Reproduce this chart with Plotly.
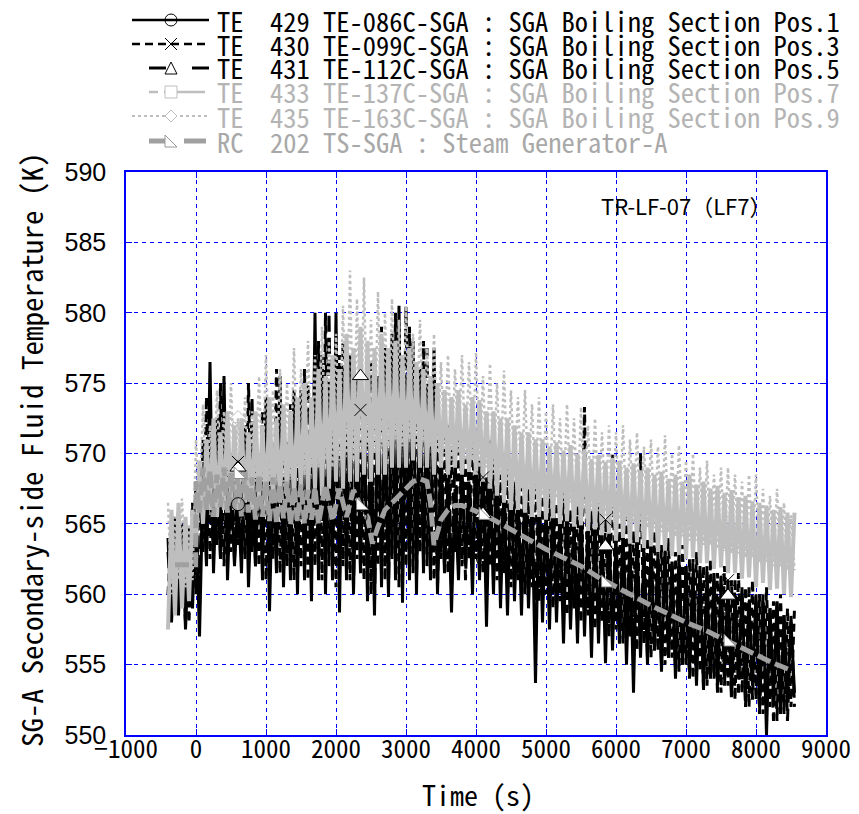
import plotly.graph_objects as go

# sampling times of the TE channels (s)
t_te = list(range(-400, 8501, 100))

# TE 429 (Pos.1) upper / lower readings
hi1 = [564.0, 563.0, 565.0, 563.5,
       566.0, 568.0, 576.5, 569.0, 575.5, 568.0, 567.0, 572.0, 568.0, 570.0,
       574.0, 569.0, 575.5, 570.0, 572.0, 574.5, 571.0, 580.0, 576.0, 574.0,
       580.0, 575.0, 577.0, 572.0, 574.0, 571.0, 575.5, 573.0, 578.5, 580.5,
       575.0, 578.0, 576.0, 574.0, 577.5, 570.0, 568.0, 567.5, 569.0, 568.0,
       571.0, 569.5, 568.5, 570.0, 567.5, 568.5, 567.0, 568.0, 566.5, 567.0,
       566.0, 567.0, 565.5, 566.0, 565.0, 566.5, 565.0, 565.5, 564.5, 565.0,
       564.0, 564.5, 563.5, 564.0, 563.0, 563.5, 562.5, 563.0, 562.0, 562.5,
       562.0, 561.5, 562.0, 561.0, 561.5, 560.5, 561.0, 560.0, 560.5, 559.5,
       560.0, 559.5, 559.0, 559.5, 558.5, 558.0]
lo1 = [558.0, 558.5, 557.5, 559.0,
       557.0, 562.0, 561.5, 562.5, 561.0, 562.0, 561.5, 560.5, 562.0, 561.0,
       558.8, 561.5, 560.5, 561.0, 560.0, 561.0, 559.5, 561.0, 560.0, 561.0,
       558.7, 561.0, 560.0, 561.5, 559.5, 558.5, 560.5, 559.8, 561.0, 559.4,
       561.0, 560.0, 561.5, 561.0, 560.0, 561.5, 558.7, 561.0, 562.0, 560.0,
       561.0, 557.7, 560.0, 559.0, 558.5, 559.5, 558.5, 559.0, 553.7, 558.0,
       557.5, 558.0, 556.5, 557.5, 556.5, 557.0, 555.5, 556.5, 555.1, 556.0,
       556.5, 555.0, 553.0, 555.5, 555.0, 556.0, 554.5, 555.5, 554.0, 555.0,
       554.5, 553.5, 553.2, 554.0, 553.5, 554.5, 553.0, 554.0, 552.5, 553.5,
       552.0, 550.0, 552.5, 551.5, 552.5, 553.0]

# TE 430 (Pos.3)
hi3 = [565.0, 566.0, 564.5, 566.5,
       567.0, 574.0, 570.0, 575.0, 569.5, 571.5, 569.4, 575.0, 570.0, 573.0,
       570.5, 576.0, 571.0, 573.5, 570.0, 576.0, 573.0, 578.0, 580.0, 575.5,
       577.0, 573.5, 576.0, 573.1, 577.0, 574.0, 579.0, 576.0, 580.0, 577.0,
       579.0, 576.5, 578.0, 575.0, 573.0, 571.5, 570.5, 572.0, 570.0, 571.5,
       569.5, 568.3, 570.0, 568.5, 569.5, 568.0, 569.0, 567.5, 568.5, 567.0,
       567.5, 566.5, 567.5, 566.0, 566.5, 573.3, 566.0, 566.5, 565.3, 570.0,
       565.0, 565.5, 564.5, 570.0, 564.0, 564.5, 563.5, 564.0, 563.0, 563.5,
       562.5, 563.0, 562.0, 562.5, 561.5, 562.0, 561.0, 561.5, 560.5, 561.0,
       560.0, 560.5, 559.5, 560.0, 559.0, 559.0]
lo3 = [560.0, 559.0, 560.5, 558.0,
       560.0, 563.0, 562.5, 563.5, 562.0, 563.0, 563.5, 562.5, 563.0, 562.0,
       561.0, 562.5, 561.5, 562.0, 561.0, 562.0, 561.0, 562.0, 561.0, 562.0,
       560.5, 562.0, 561.0, 562.5, 561.0, 560.0, 562.0, 561.0, 562.5, 560.5,
       562.0, 561.5, 563.0, 562.0, 561.0, 562.5, 561.5, 563.0, 562.0, 562.5,
       562.5, 561.5, 562.0, 561.0, 561.5, 560.5, 561.0, 560.0, 560.5, 559.5,
       560.0, 559.0, 559.5, 558.5, 559.0, 558.0, 558.5, 557.5, 558.0, 557.0,
       557.5, 556.5, 557.0, 556.0, 556.5, 555.5, 556.0, 555.0, 555.5, 554.5,
       555.0, 554.0, 554.5, 553.5, 554.0, 553.0, 553.5, 552.5, 553.0, 552.0,
       552.5, 551.5, 552.0, 551.0, 551.5, 552.0]

# TE 431 (Pos.5)
hi5 = [563.0, 565.5, 563.0, 565.0,
       568.0, 571.0, 569.0, 572.5, 568.5, 570.0, 569.0, 571.0, 574.0, 569.5,
       571.5, 570.0, 572.5, 571.0, 574.5, 571.5, 575.0, 573.0, 577.0, 580.0,
       575.0, 578.0, 574.0, 575.5, 573.0, 576.5, 574.0, 577.5, 575.0, 578.0,
       580.5, 577.0, 575.0, 577.5, 574.0, 571.0, 572.0, 570.0, 571.5, 569.5,
       570.5, 569.0, 571.0, 569.5, 568.0, 569.0, 567.5, 568.5, 567.0, 568.0,
       566.5, 567.5, 566.0, 567.0, 565.5, 566.5, 565.0, 566.0, 563.4, 565.5,
       564.5, 565.0, 564.0, 564.5, 563.5, 564.0, 563.0, 563.5, 562.5, 563.0,
       562.0, 562.5, 561.5, 562.0, 561.0, 561.5, 559.9, 561.0, 560.0, 560.5,
       559.5, 560.0, 559.0, 559.5, 558.5, 558.5]
lo5 = [559.0, 560.0, 558.0, 560.5,
       559.0, 563.5, 563.0, 562.5, 563.0, 562.5, 563.0, 563.5, 562.0, 563.0,
       562.0, 563.0, 561.5, 562.5, 561.5, 563.0, 561.5, 562.0, 561.0, 562.5,
       561.0, 562.0, 560.5, 562.0, 561.0, 559.5, 561.5, 560.5, 562.0, 561.0,
       562.5, 561.0, 562.5, 561.5, 560.5, 562.0, 560.5, 562.0, 561.0, 562.0,
       561.5, 562.0, 561.0, 561.5, 560.5, 561.0, 560.0, 560.5, 559.5, 560.0,
       559.0, 559.5, 558.5, 559.0, 558.0, 558.5, 557.5, 558.0, 557.0, 557.5,
       556.5, 557.0, 556.0, 556.5, 555.5, 556.0, 555.0, 555.5, 554.5, 555.0,
       554.0, 554.5, 553.5, 554.0, 553.0, 553.5, 552.5, 553.0, 552.0, 552.5,
       551.5, 552.0, 551.0, 551.5, 551.0, 552.0]

# TE 433 (Pos.7)
hi7 = [566.0, 566.5, 565.5, 566.0,
       569.5, 571.0, 572.5, 571.5, 573.0, 572.0, 572.5, 571.5, 573.0, 572.0,
       574.0, 572.5, 573.5, 573.0, 574.0, 575.0, 574.0, 576.0, 575.5, 577.0,
       576.0, 578.5, 577.5, 579.0, 578.0, 577.5, 578.5, 577.5, 578.0, 577.0,
       577.5, 576.5, 576.0, 575.5, 575.0, 574.5, 574.0, 574.5, 573.5, 574.0,
       573.8, 573.0, 573.0, 572.5, 572.5, 572.0, 571.5, 571.5, 571.0, 571.0,
       570.5, 570.8, 570.2, 570.6, 570.0, 570.3, 569.6, 569.9, 569.4, 569.7,
       569.5, 569.0, 569.3, 568.8, 569.0, 568.5, 568.7, 568.2, 568.5, 568.0,
       568.5, 567.8, 568.0, 567.5, 567.7, 567.2, 567.4, 566.9, 567.0, 566.6,
       566.5, 566.3, 566.0, 566.2, 565.8, 565.8]
lo7 = [557.5, 558.5, 559.0, 559.5,
       563.5, 565.0, 566.0, 565.5, 566.0, 566.5, 566.0, 566.5, 566.0, 566.5,
       566.0, 566.5, 566.5, 567.0, 566.5, 567.0, 567.0, 567.5, 567.0, 567.5,
       568.0, 567.5, 568.0, 568.0, 568.5, 568.0, 568.5, 568.5, 569.0, 569.0,
       569.0, 569.5, 569.0, 569.0, 568.5, 569.0, 568.5, 569.0, 568.5, 568.7,
       568.5, 568.0, 567.5, 567.0, 566.5, 566.0, 566.0, 565.8, 565.5, 565.5,
       565.3, 565.4, 565.0, 565.2, 564.8, 564.9, 564.5, 564.6, 564.2, 564.3,
       563.8, 564.0, 563.6, 563.7, 563.3, 563.4, 563.0, 563.1, 562.7, 562.8,
       562.5, 562.6, 562.2, 562.2, 561.8, 561.9, 561.5, 561.5, 561.1, 561.2,
       560.5, 560.8, 560.3, 560.4, 560.0, 559.8]

# TE 435 (Pos.9)
hi9 = [566.5, 565.5, 566.8, 565.0,
       571.0, 573.5, 572.0, 574.5, 573.0, 575.0, 572.5, 574.0, 573.0, 575.5,
       577.0, 574.5, 576.0, 575.0, 577.5, 576.0, 578.0, 577.0, 579.0, 578.0,
       578.5, 580.5, 583.0, 581.0, 582.5, 579.5, 581.5, 580.0, 581.0, 579.5,
       580.5, 578.5, 579.5, 577.5, 578.5, 576.5, 577.0, 576.0, 577.0, 576.5,
       577.2, 575.5, 576.4, 575.0, 575.9, 574.5, 574.0, 574.5, 573.5, 574.0,
       573.0, 573.5, 572.5, 573.5, 572.5, 573.3, 572.0, 572.5, 571.5, 572.0,
       571.5, 572.0, 571.0, 571.5, 570.5, 571.0, 570.5, 571.3, 570.0, 570.6,
       569.5, 570.0, 569.0, 569.5, 568.5, 569.0, 569.0, 568.5, 568.0, 568.5,
       568.5, 567.5, 567.0, 567.5, 566.5, 565.6]
lo9 = [560.0, 561.0, 560.5, 561.0,
       566.0, 567.0, 567.5, 567.0, 567.5, 567.5, 568.0, 567.5, 568.0, 568.0,
       568.0, 568.5, 568.0, 568.5, 569.0, 568.5, 569.0, 569.0, 569.5, 569.0,
       569.5, 570.0, 569.5, 570.0, 570.5, 570.0, 570.5, 570.5, 571.0, 570.5,
       571.0, 570.5, 571.0, 570.5, 570.0, 570.0, 569.5, 570.0, 569.5, 569.5,
       569.0, 569.0, 568.5, 568.5, 568.0, 568.0, 567.5, 567.5, 567.0, 567.0,
       566.8, 566.8, 566.5, 566.5, 566.2, 566.2, 565.9, 565.9, 565.6, 565.6,
       565.3, 565.3, 565.0, 565.0, 564.7, 564.7, 564.4, 564.4, 564.1, 564.1,
       563.8, 563.8, 563.5, 563.5, 563.2, 563.2, 562.9, 562.9, 562.6, 562.6,
       562.3, 562.3, 562.0, 562.0, 561.7, 561.7]

# RC 202 TS-SGA
rc_t = [-300, -5,
        0, 50, 100, 150, 200, 250, 300, 350, 400, 450, 500, 550, 600, 650,
        700, 750, 800, 850, 900, 950, 1000, 1050, 1100, 1150, 1200, 1250,
        1300, 1350, 1400, 1450, 1500, 1550, 1600, 1650, 1700, 1750,
        1850, 1950, 2050, 2150, 2250, 2350, 2450, 2520, 2600, 2700, 2800,
        2900, 3000, 3100, 3200, 3300, 3350, 3400, 3450, 3500, 3600, 3700,
        3800, 3900, 4000, 4250, 4500, 4750, 5000, 5250, 5500, 5750, 6000,
        6250, 6500, 6750, 7000, 7250, 7500, 7750, 8000, 8250, 8500]
rc_v = [562.1, 562.1,
        568.0, 565.8, 569.0, 566.0, 568.8, 565.5, 568.5, 566.2, 569.0, 565.8,
        568.6, 566.0, 568.5, 565.5, 568.8, 565.8, 568.3, 565.3, 568.5, 565.5,
        568.0, 565.2, 568.3, 565.0, 567.8, 565.4, 568.0, 564.9, 567.6, 565.2,
        567.8, 565.0, 567.4, 565.3, 567.6, 565.0,
        567.8, 565.2, 567.5, 565.5, 567.4, 566.3, 565.5, 563.6, 564.8, 566.0,
        566.5, 567.0, 567.6, 568.0, 568.2, 568.0, 566.5, 563.5, 564.4, 565.3,
        566.0, 566.3, 566.3, 566.1, 565.9, 565.3, 564.6, 563.9, 563.2, 562.6,
        562.0, 561.2, 560.5, 559.8, 559.2, 558.6, 558.0, 557.5, 556.9, 556.3,
        555.7, 555.1, 554.6]

# symbol positions
mk_t = [600, 2350, 4100, 5850, 7600]
mk1 = [566.4, 565.5, 562.5, 559.0, 555.5]
mk3 = [569.4, 573.1, 568.3, 565.3, 561.0]
mk5 = [569.0, 575.5, 565.7, 563.4, 559.9]
mk7 = [571.8, 572.0, 570.5, 567.0, 563.5]
mk9 = [572.5, 574.0, 571.0, 568.0, 565.0]
mk_rc = [568.5, 566.3, 565.6, 560.8, 556.6]

labels = ["TE  429 TE-086C-SGA : SGA Boiling Section Pos.1",
          "TE  430 TE-099C-SGA : SGA Boiling Section Pos.3",
          "TE  431 TE-112C-SGA : SGA Boiling Section Pos.5",
          "TE  433 TE-137C-SGA : SGA Boiling Section Pos.7",
          "TE  435 TE-163C-SGA : SGA Boiling Section Pos.9",
          "RC  202 TS-SGA : Steam Generator-A"]

x_ticks = [-1000, 0, 1000, 2000, 3000, 4000, 5000, 6000, 7000, 8000, 9000]
y_ticks = [550, 555, 560, 565, 570, 575, 580, 585, 590]

MONO = "Noto Sans Mono CJK JP, DejaVu Sans Mono, monospace"
BLUE = "#0000ff"
LGRAY = "#bebebe"
MGRAY = "#a0a0a0"

# plot area is 700 x 563 px; helpers turn picture pixels into paper units
def px(x):
    return (x - 126) / 700.0

def py(y):
    return (735 - y) / 563.0


def zigzag(hi, lo, phase=0):
    # alternate the upper and lower readings of each sample period
    xs, ys = [], []
    for t, h, l in zip(t_te, hi, lo):
        xs += [t, t + 50]
        ys += [h, l] if phase == 0 else [l, h]
    return xs, ys


def legend_symbol(kind, cx, cy, color, fill):
    # small marker drawn as a paper-referenced shape
    r = 6
    x0, x1, xm = px(cx - r), px(cx + r), px(cx)
    y0, y1, ym = py(cy + r), py(cy - r), py(cy)
    base = dict(xref="paper", yref="paper", layer="above",
                line=dict(color=color, width=1), fillcolor=fill)
    if kind == "circle":
        return dict(type="circle", x0=x0, x1=x1, y0=y0, y1=y1, **base)
    if kind == "square":
        return dict(type="rect", x0=x0, x1=x1, y0=y0, y1=y1, **base)
    if kind == "x":
        path = f"M{x0},{y0} L{x1},{y1} M{x0},{y1} L{x1},{y0}"
    elif kind == "tri":
        path = f"M{x0},{y0} L{x1},{y0} L{xm},{y1} Z"
    elif kind == "diamond":
        path = f"M{xm},{y0} L{x1},{ym} L{xm},{y1} L{x0},{ym} Z"
    else:  # right triangle, corner at bottom-left
        path = f"M{x0},{y1} L{x0},{y0} L{x1},{y0} Z"
    return dict(type="path", path=path, **base)


def main():
    fig = go.Figure()

    series = [
        (hi1, lo1, 0, dict(color="black", width=3)),
        (hi3, lo3, 1, dict(color="black", width=3, dash="8px,5px")),
        (hi5, lo5, 0, dict(color="black", width=3, dash="16px,6px")),
        (hi7, lo7, 1, dict(color=LGRAY, width=4)),
        (hi9, lo9, 0, dict(color=LGRAY, width=2.5, dash="3px,3px")),
    ]
    for hi, lo, ph, ln in series:
        xs, ys = zigzag(hi, lo, ph)
        fig.add_trace(go.Scatter(x=xs, y=ys, mode="lines", line=ln,
                                 showlegend=False, hoverinfo="skip"))
    fig.add_trace(go.Scatter(x=rc_t, y=rc_v, mode="lines",
                             line=dict(color=MGRAY, width=5, dash="14px,5px"),
                             showlegend=False, hoverinfo="skip"))

    markers = [
        (mk7, dict(symbol="square-open", size=11, color=LGRAY, line=dict(width=1))),
        (mk9, dict(symbol="diamond-open", size=12, color=LGRAY, line=dict(width=1))),
        (mk1, dict(symbol="circle-open", size=13, color="black", line=dict(width=1))),
        (mk5, dict(symbol="triangle-up", size=14, color="white",
                   line=dict(color="black", width=1))),
        (mk3, dict(symbol="x-thin-open", size=12, color="black", line=dict(width=1))),
        (mk_rc, dict(symbol="triangle-sw", size=13, color="white",
                     line=dict(color="#888888", width=1))),
    ]
    for vals, mk in markers:
        fig.add_trace(go.Scatter(x=mk_t, y=vals, mode="markers", marker=mk,
                                 showlegend=False, hoverinfo="skip"))

    # legend block above the plot, drawn by hand
    rows_y = [20, 44, 68, 92, 116, 141]
    samples = [
        ([(132, 209)], dict(color="black", width=2.5), "circle", "black", "rgba(0,0,0,0)"),
        ([(132, 209)], dict(color="black", width=2.5, dash="8px,5px"), "x", "black", "rgba(0,0,0,0)"),
        ([(149, 166), (192, 209)], dict(color="black", width=3), "tri", "black", "white"),
        ([(149, 158), (164, 205)], dict(color=LGRAY, width=2.5), "square", LGRAY, "white"),
        ([(132, 209)], dict(color=LGRAY, width=2, dash="3px,3px"), "diamond", LGRAY, "white"),
        ([(149, 165), (184, 206)], dict(color=MGRAY, width=5), "rtri", "#999999", "white"),
    ]
    text_colors = ["black", "black", "black", "#b4b4b4", "#b4b4b4", "#a8a8a8"]
    for y, (segs, ln, sym, mcol, mfill), lab, tc in zip(rows_y, samples, labels, text_colors):
        for a, b in segs:
            fig.add_shape(type="line", xref="paper", yref="paper", layer="above",
                          x0=px(a), x1=px(b), y0=py(y), y1=py(y), line=ln)
        fig.add_shape(**legend_symbol(sym, 171, y, mcol, mfill))
        fig.add_annotation(x=px(215), y=py(y), xref="paper", yref="paper", text=lab,
                           showarrow=False, xanchor="left", yanchor="middle",
                           font=dict(family=MONO, size=26.5, color=tc))

    fig.add_annotation(x=px(686), y=py(205), xref="paper", yref="paper",
                       text="TR-LF-07（LF7）", showarrow=False,
                       xanchor="center", yanchor="middle",
                       font=dict(family="Noto Sans CJK JP", size=22, color="black"))
    fig.add_annotation(x=px(478), y=py(794), xref="paper", yref="paper",
                       text="Time (s)", showarrow=False,
                       xanchor="center", yanchor="middle",
                       font=dict(family=MONO, size=28, color="black"))
    fig.add_annotation(x=px(30), y=py(450), xref="paper", yref="paper",
                       text="SG-A Secondary-side Fluid Temperature (K)",
                       textangle=-90, showarrow=False,
                       xanchor="center", yanchor="middle",
                       font=dict(family=MONO, size=29, color="black"))

    # the page body adds an 8 px offset, so margins are shifted by 8 px
    fig.update_layout(
        width=859, height=814,
        margin=dict(l=118, r=41, t=164, b=87),
        paper_bgcolor="white", plot_bgcolor="white",
        showlegend=False,
        xaxis=dict(range=[-1000, 9000], tickvals=x_ticks,
                   showgrid=True, gridcolor=BLUE, griddash="4px,4px", gridwidth=1,
                   showline=True, linecolor=BLUE, linewidth=1.5, mirror="ticks",
                   ticks="inside", ticklen=6, tickcolor=BLUE, zeroline=False,
                   ticklabelstandoff=-9,
                   tickfont=dict(family=MONO, size=25, color="black")),
        yaxis=dict(range=[550, 590], tickvals=y_ticks,
                   showgrid=True, gridcolor=BLUE,
                   griddash="4px,4px", gridwidth=1, showline=True,
                   linecolor=BLUE, linewidth=1.5, mirror="ticks",
                   ticks="inside", ticklen=6, tickcolor=BLUE, zeroline=False,
                   ticklabelstandoff=13,
                   tickfont=dict(family="Liberation Sans", size=25, color="black")),
    )

    fig.write_html("out.html")


main()
